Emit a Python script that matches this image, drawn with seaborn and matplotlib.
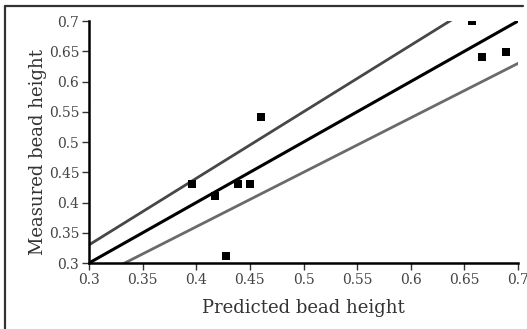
import matplotlib
matplotlib.use("Agg")
import matplotlib.pyplot as plt
import matplotlib.lines as mlines
import pandas as pd
import seaborn as sns

# measured vs predicted bead height
predicted = [0.396, 0.417, 0.439, 0.450, 0.428, 0.460, 0.657, 0.666, 0.689]
measured = [0.430, 0.411, 0.430, 0.430, 0.312, 0.541, 0.700, 0.640, 0.649]

# reference lines (ideal, +10 %, -10 %)
line_x = [0.3, 0.7]
ideal_y = [0.3, 0.7]
upper_y = [0.33, 0.77]
lower_y = [0.27, 0.63]

ticks = [0.3, 0.35, 0.4, 0.45, 0.5, 0.55, 0.6, 0.65, 0.7]
tick_labels = ['0.3', '0.35', '0.4', '0.45', '0.5', '0.55', '0.6', '0.65', '0.7']

sns.set_theme(style='white')
plt.rcParams['font.family'] = ['DejaVu Serif']

df = pd.DataFrame({'predicted': predicted, 'measured': measured})

fig = plt.figure(figsize=(5.27, 3.29), dpi=100)
ax = fig.add_axes([0.169, 0.2006, 0.814, 0.7355])

sns.lineplot(x=line_x, y=upper_y, color='#474747', linewidth=2.0, ax=ax)
sns.lineplot(x=line_x, y=lower_y, color='#6a6a6a', linewidth=2.0, ax=ax)
sns.lineplot(x=line_x, y=ideal_y, color='black', linewidth=2.2, ax=ax)
sns.scatterplot(data=df, x='predicted', y='measured', marker='s', s=28,
                color='black', edgecolor='black', linewidth=0, ax=ax, zorder=5)

ax.set_xlim(0.3, 0.7)
ax.set_ylim(0.3, 0.7)
ax.set_xticks(ticks)
ax.set_xticklabels(tick_labels)
ax.set_yticks(ticks)
ax.set_yticklabels(tick_labels)
ax.tick_params(axis='both', direction='out', length=5, width=1, color='#333333',
               labelsize=10, labelcolor='#444444', pad=2,
               bottom=True, left=True)
for side in ['top', 'right']:
    ax.spines[side].set_visible(False)
for side in ['left', 'bottom']:
    ax.spines[side].set_color('black')
    ax.spines[side].set_linewidth(1.8)

ax.set_xlabel('Predicted bead height', fontsize=13, color='#333333', labelpad=9)
ax.set_ylabel('Measured bead height', fontsize=13, color='#333333')
ax.yaxis.set_label_coords(-0.098, 0.46)

# frame lines at the top and left of the figure
fig.add_artist(mlines.Line2D([0.009, 0.992], [0.983, 0.983], color='#333333',
                             linewidth=1.6, transform=fig.transFigure))
fig.add_artist(mlines.Line2D([0.009, 0.009], [0.0, 0.983], color='#333333',
                             linewidth=1.6, transform=fig.transFigure))

fig.savefig('out.png', dpi=100)
